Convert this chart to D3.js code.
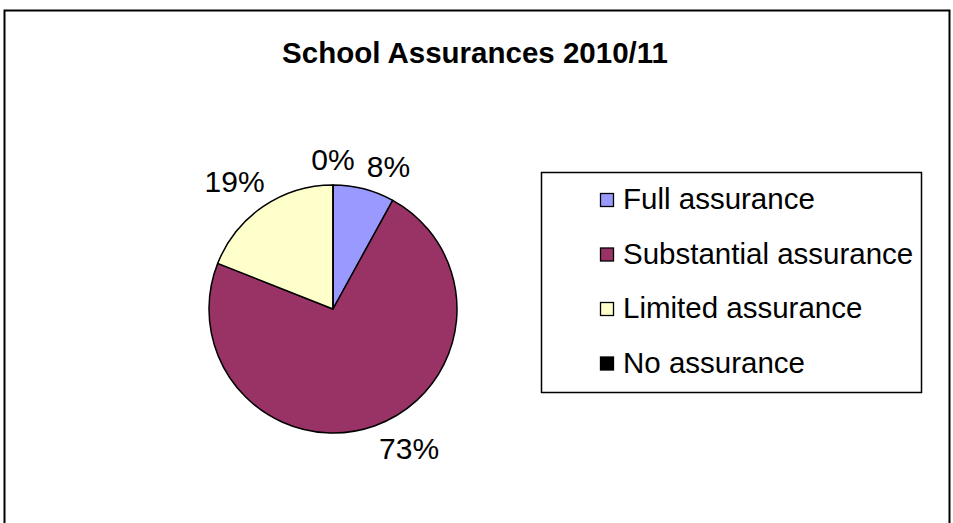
<!DOCTYPE html>
<html>
<head>
<meta charset="utf-8">
<script src="https://cdn.jsdelivr.net/npm/d3@7"></script>
<style>
  body { margin: 0; background: #fff; }
  text { font-family: "Liberation Sans", Arial, sans-serif; fill: #000; }
</style>
</head>
<body>
<div id="chart-area"></div>
<script>
var categories = ["Full assurance", "Substantial assurance", "Limited assurance", "No assurance"];
var values = [8, 73, 19, 0];
var colors = ["#9999FF", "#993366", "#FFFFCC", "#000000"];
var title = "School Assurances 2010/11";

var width = 953, height = 523;

var svg = d3.select("#chart-area")
    .append("svg")
        .attr("width", width)
        .attr("height", height);

// outer frame (bottom edge runs off the picture)
svg.append("rect")
    .attr("x", 4.5)
    .attr("y", 10.5)
    .attr("width", 945)
    .attr("height", 600)
    .attr("fill", "none")
    .attr("stroke", "#000")
    .attr("stroke-width", 2);

// Title
svg.append("text")
    .attr("x", 475)
    .attr("y", 63)
    .attr("font-size", "29.5px")
    .attr("font-weight", "bold")
    .attr("text-anchor", "middle")
    .text(title);

// Pie
var cx = 333, cy = 309, radius = 124;

var pie = d3.pie()
    .sort(null)
    .value((d) => d);

var arc = d3.arc()
    .innerRadius(0)
    .outerRadius(radius);

var arcs = pie(values);

var g = svg.append("g")
    .attr("transform", "translate(" + cx + "," + cy + ")");

g.selectAll("path")
    .data(arcs)
    .enter()
    .append("path")
        .attr("d", arc)
        .attr("fill", (d, i) => colors[i])
        .attr("stroke", "#000")
        .attr("stroke-width", 1.5)
        .attr("stroke-linejoin", "round");

// Labels just outside the slices, nearest corner of the text toward the pie
var labelR = radius + 12;
g.selectAll(".label")
    .data(arcs)
    .enter()
    .append("text")
        .attr("class", "label")
        .attr("font-size", "30px")
        .each(function(d) {
            var a = (d.startAngle + d.endAngle) / 2;
            var s = Math.sin(a), c = Math.cos(a);
            var x = labelR * s, y = -labelR * c;
            var anchor = Math.abs(s) < 0.05 ? "middle" : (s > 0 ? "start" : "end");
            var baseline = c > 0 ? y : y + 22;
            if (anchor == "middle") baseline -= 3;
            // upper-left labels sit a bit closer in
            if (s < -0.05 && c > 0) { x += 8; baseline -= 5; }
            d3.select(this)
                .attr("x", x)
                .attr("y", baseline)
                .attr("text-anchor", anchor);
        })
        .text((d) => Math.round(d.value) + "%");

// Legend
var legend = svg.append("g")
    .attr("transform", "translate(541,172)");

legend.append("rect")
    .attr("x", 0.5)
    .attr("y", 0.5)
    .attr("width", 380)
    .attr("height", 220)
    .attr("fill", "#fff")
    .attr("stroke", "#000")
    .attr("stroke-width", 1.5);

var rowY = d3.scalePoint()
    .domain(categories)
    .range([28, 191.5]);

var items = legend.selectAll(".item")
    .data(categories)
    .enter()
    .append("g")
        .attr("class", "item")
        .attr("transform", (d) => "translate(0," + rowY(d) + ")");

items.append("rect")
    .attr("x", 59.5)
    .attr("y", -6.5)
    .attr("width", 13)
    .attr("height", 13)
    .attr("fill", (d, i) => colors[i])
    .attr("stroke", "#000")
    .attr("stroke-width", 1.3);

items.append("text")
    .attr("x", 82)
    .attr("y", 9)
    .attr("font-size", "29.5px")
    .text((d) => d);
</script>
</body>
</html>
